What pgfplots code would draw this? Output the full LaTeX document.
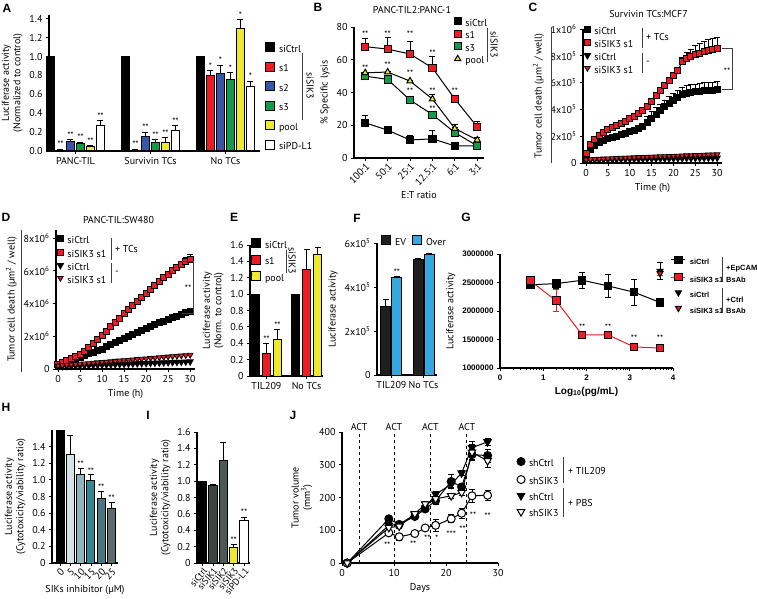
\documentclass[border=0pt]{standalone}
\usepackage{fontspec}
\setmainfont{PT Sans}
\newfontfamily\arial{Liberation Sans}
\usepackage{pgfplots}
\pgfplotsset{compat=1.18}

\definecolor{cred}{HTML}{ED1C24}
\definecolor{cblue}{HTML}{3A55A5}
\definecolor{cgreen}{HTML}{119A4B}
\definecolor{cyel}{HTML}{EEE82F}
\definecolor{cover}{HTML}{36A8E0}
\definecolor{cev}{HTML}{1F1F1F}
\definecolor{hA}{HTML}{D3E3E8}
\definecolor{hB}{HTML}{8EB4BD}
\definecolor{hC}{HTML}{2E8897}
\definecolor{hD}{HTML}{4A7682}
\definecolor{hE}{HTML}{5B6B70}
\definecolor{iA}{HTML}{3B4644}
\definecolor{iB}{HTML}{4D5955}
\definecolor{decg}{HTML}{404040}

\tikzset{
  st/.style={anchor=south, inner sep=0.5pt, font=\fontsize{9}{9}\selectfont},
  brk/.style={draw=decg, line width=1pt},
  lab/.style={font=\arial\bfseries\fontsize{12}{12}\selectfont, inner sep=0pt},
  gtx/.style={anchor=west, inner sep=0pt, font=\arial\bfseries\fontsize{7.5}{9}\selectfont},
}

\pgfplotsset{
  panel/.style={
    scale only axis, anchor=south west, clip=false,
    axis x line*=bottom, axis y line*=left,
    axis line style={line width=1.1pt},
    tick align=outside, major tick length=3pt, minor tick length=2pt,
    tick style={line width=0.8pt, black},
    /pgf/number format/assume math mode=true,
    scaled ticks=false,
    every axis plot/.append style={line width=1pt},
    legend style={draw=none, fill=none, inner sep=0pt, outer sep=0pt, anchor=north west,
      cells={anchor=west}, nodes={inner sep=0pt, text height=7pt, text depth=2pt},
      /tikz/every odd column/.append style={column sep=4pt}},
  },
  sqleg/.style={legend image code/.code={\draw[##1] (0pt,-2pt) rectangle (9pt,7pt);}},
  mkleg/.style={legend image code/.code={\draw[##1] plot[only marks] coordinates {(4pt,2.5pt)};}},
  lnleg/.style={legend image code/.code={\draw[mark repeat=2,mark phase=2,##1] plot coordinates {(0pt,2.5pt) (7pt,2.5pt) (14pt,2.5pt)};}},
  ebar/.style={error bars/y dir=plus, error bars/y explicit,
    error bars/error bar style={line width=1pt, black},
    error bars/error mark options={rotate=90, mark size=3pt, line width=1pt, black}},
  ebarb/.style={error bars/y dir=both, error bars/y explicit,
    error bars/error bar style={line width=1pt, black},
    error bars/error mark options={rotate=90, mark size=3pt, line width=1pt, black}},
  ebarr/.style={error bars/y dir=both, error bars/y explicit,
    error bars/error bar style={line width=1pt, cred},
    error bars/error mark options={rotate=90, mark size=3pt, line width=1pt, cred}},
}

\begin{document}
\fontsize{10}{11.5}\selectfont
\begin{tikzpicture}
\useasboundingbox (0pt,0pt) rectangle (757pt,598pt);

% ---------------- A
\begin{axis}[panel, at={(49pt,447pt)}, width=211pt, height=136pt,
  ybar=2pt, bar width=8pt,
  xmin=-0.353, xmax=2.46, ymin=0, ymax=1.44,
  xtick={0,1,2}, xticklabels={PANC-TIL,Survivin TCs,No TCs},
  ytick={0,0.2,0.4,0.6,0.8,1.0,1.2,1.4},
  yticklabels={0.0,0.2,0.4,0.6,0.8,1.0,1.2,1.4},
  ylabel={Luciferase activity\\(Normalized to control)},
  ylabel style={align=center},
  every axis plot/.append style={sqleg, draw=black},
  legend style={at={(1.024,0.80)}, row sep=7.5pt},
]
\addplot[fill=black] coordinates {(0,1) (1,1) (2,1)};
\addplot[fill=cred, ebar] coordinates {(0,0.01) +- (0,0.005) (1,0.01) +- (0,0.005) (2,0.80) +- (0,0.05)};
\addplot[fill=cblue, ebar] coordinates {(0,0.10) +- (0,0.02) (1,0.15) +- (0,0.05) (2,0.82) +- (0,0.09)};
\addplot[fill=cgreen, ebar] coordinates {(0,0.08) +- (0,0.015) (1,0.09) +- (0,0.03) (2,0.76) +- (0,0.07)};
\addplot[fill=cyel, ebar] coordinates {(0,0.05) +- (0,0.01) (1,0.09) +- (0,0.05) (2,1.30) +- (0,0.09)};
\addplot[fill=white, ebar] coordinates {(0,0.27) +- (0,0.05) (1,0.22) +- (0,0.05) (2,0.68) +- (0,0.06)};
\legend{siCtrl,s1,s2,s3,pool,siPD-L1}
\node[st] at ([xshift=-15pt]axis cs:0,0.03) {**};
\node[st] at ([xshift=-5pt]axis cs:0,0.125) {**};
\node[st] at ([xshift=5pt]axis cs:0,0.10) {**};
\node[st] at ([xshift=15pt]axis cs:0,0.065) {**};
\node[st] at ([xshift=25pt]axis cs:0,0.325) {**};
\node[st] at ([xshift=-15pt]axis cs:1,0.03) {**};
\node[st] at ([xshift=-5pt]axis cs:1,0.205) {**};
\node[st] at ([xshift=5pt]axis cs:1,0.125) {**};
\node[st] at ([xshift=15pt]axis cs:1,0.145) {**};
\node[st] at ([xshift=25pt]axis cs:1,0.275) {**};
\node[st] at ([xshift=-15pt]axis cs:2,0.855) {*};
\node[st] at ([xshift=-5pt]axis cs:2,0.915) {*};
\node[st] at ([xshift=5pt]axis cs:2,0.835) {*};
\node[st] at ([xshift=15pt]axis cs:2,1.395) {*};
\node[st] at ([xshift=25pt]axis cs:2,0.745) {*};
\end{axis}

% ---------------- B
\begin{axis}[panel, at={(354pt,440pt)}, width=130pt, height=131pt,
  xmin=-0.5, xmax=5.3, ymin=0, ymax=80,
  xtick={0,1,2,3,4,5}, xticklabels={100:1,50:1,25:1,12.5:1,6:1,3:1},
  xticklabel style={rotate=45, anchor=north east, inner sep=1pt},
  ytick={0,20,40,60,80},
  xlabel={E:T ratio}, ylabel={\% Specific lysis},
  title={PANC-TIL2:PANC-1}, title style={xshift=-7pt, yshift=4pt},
  every axis plot/.append style={mkleg},
  legend style={at={(0.77,1.073)}, row sep=2pt},
]
\addplot[black, mark=square*, mark size=3.6pt, ebar] coordinates {(0,21.5) +- (0,4.5) (1,17) +- (0,1) (2,11) +- (0,3) (3,11.7) +- (0,5) (4,7.4) +- (0,1) (5,7.4) +- (0,1)};
\addplot[black, mark=square*, mark size=3.6pt, mark options={fill=cred}, ebar] coordinates {(0,68) +- (0,5) (1,66.5) +- (0,7) (2,63.5) +- (0,7.5) (3,55) +- (0,7) (4,36) +- (0,1) (5,19) +- (0,3.5)};
\addplot[black, mark=square*, mark size=3.6pt, mark options={fill=cgreen}, ebar] coordinates {(0,50) +- (0,1.5) (1,48) +- (0,1) (2,35.4) +- (0,2) (3,26.5) +- (0,2) (4,15.5) +- (0,3) (5,7.4) +- (0,1)};
\addplot[black, mark=triangle*, mark size=3.6pt, mark options={fill=cyel}, ebar] coordinates {(0,52) +- (0,0.5) (1,52.5) +- (0,0.5) (2,47) +- (0,0.5) (3,36) +- (0,2.5) (4,18) +- (0,2.5) (5,11) +- (0,1.5)};
\legend{siCtrl,s1,s3,pool}
\node[st] at (axis cs:0,72.9) {**};
\node[st] at (axis cs:0,52.5) {**};
\node[st] at (axis cs:1,72.9) {**};
\node[st] at (axis cs:1,54.1) {**};
\node[st] at (axis cs:2,72.9) {**};
\node[st] at (axis cs:2,49.4) {**};
\node[st] at (axis cs:2,38.1) {**};
\node[st] at (axis cs:3,61.6) {**};
\node[st] at (axis cs:3,38.6) {**};
\node[st] at (axis cs:3,27.6) {**};
\node[st] at (axis cs:4,38.6) {**};
\end{axis}

% ---------------- C
\begin{axis}[panel, at={(583pt,435pt)}, width=139pt, height=134pt,
  xmin=-0.7, xmax=31.1, ymin=0, ymax=10,
  xtick={0,5,10,15,20,25,30}, ytick={0,2,4,6,8,10},
  yticklabels={0,2x10\textsuperscript{5},4x10\textsuperscript{5},6x10\textsuperscript{5},8x10\textsuperscript{5},1x10\textsuperscript{6}},
  xlabel={Time (h)}, ylabel={Tumor cell death (µm\textsuperscript{2} / well)},
  title={Survivin TCs:MCF7}, title style={xshift=-4pt, yshift=2pt},
  every axis plot/.append style={mkleg},
  legend style={at={(0.01,1.022)}, row sep=3.7pt},
]
\addplot[black, mark=square*, mark size=3pt, ebar] coordinates {
(0,0.45) +- (0,0.1) (1,1.00) +- (0,0.1) (2,1.30) +- (0,0.1) (3,1.50) +- (0,0.1) (4,1.65) +- (0,0.1)
(5,1.80) +- (0,0.1) (6,1.90) +- (0,0.1) (7,2.00) +- (0,0.1) (8,2.10) +- (0,0.1) (9,2.20) +- (0,0.1)
(10,2.35) +- (0,0.1) (11,2.45) +- (0,0.1) (12,2.60) +- (0,0.1) (13,2.75) +- (0,0.2) (14,3.00) +- (0,0.5)
(15,3.30) +- (0,0.55) (16,3.60) +- (0,0.55) (17,3.90) +- (0,0.5) (18,4.20) +- (0,0.5) (19,4.45) +- (0,0.5)
(20,4.70) +- (0,0.5) (21,4.90) +- (0,0.5) (22,5.10) +- (0,0.5) (23,5.20) +- (0,0.55) (24,5.28) +- (0,0.55)
(25,5.33) +- (0,0.55) (26,5.37) +- (0,0.55) (27,5.40) +- (0,0.6) (28,5.42) +- (0,0.6) (29,5.44) +- (0,0.6)
(30,5.45) +- (0,0.6)};
\addplot[black, mark=square*, mark size=3pt, mark options={fill=cred}, ebar] coordinates {
(0,0.70) +- (0,0.15) (1,1.35) +- (0,0.15) (2,1.75) +- (0,0.15) (3,2.05) +- (0,0.15) (4,2.30) +- (0,0.15)
(5,2.50) +- (0,0.15) (6,2.65) +- (0,0.15) (7,2.80) +- (0,0.15) (8,2.95) +- (0,0.15) (9,3.10) +- (0,0.15)
(10,3.30) +- (0,0.15) (11,3.50) +- (0,0.15) (12,3.70) +- (0,0.15) (13,3.95) +- (0,0.15) (14,4.25) +- (0,0.15)
(15,4.60) +- (0,0.15) (16,5.00) +- (0,0.15) (17,5.40) +- (0,0.15) (18,5.80) +- (0,0.15) (19,6.15) +- (0,0.15)
(20,6.50) +- (0,0.15) (21,6.90) +- (0,0.15) (22,7.55) +- (0,0.35) (23,7.80) +- (0,0.45) (24,7.95) +- (0,0.55)
(25,8.10) +- (0,0.65) (26,8.20) +- (0,0.7) (27,8.30) +- (0,0.75) (28,8.40) +- (0,0.78) (29,8.50) +- (0,0.78)
(30,8.55) +- (0,0.78)};
\addplot[black, mark=triangle*, mark size=3.4pt, mark options={rotate=180}] coordinates {
(0,0.20) (1,0.22) (2,0.23) (3,0.24) (4,0.25) (5,0.26) (6,0.26) (7,0.27) (8,0.27) (9,0.28)
(10,0.28) (11,0.29) (12,0.29) (13,0.30) (14,0.30) (15,0.31) (16,0.31) (17,0.32) (18,0.32) (19,0.33)
(20,0.33) (21,0.34) (22,0.34) (23,0.35) (24,0.35) (25,0.36) (26,0.36) (27,0.37) (28,0.37) (29,0.38) (30,0.38)};
\addplot[black, mark=triangle*, mark size=3.2pt, mark options={rotate=180, fill=cred, line width=0.8pt}] coordinates {
(0,0.25) (1,0.27) (2,0.29) (3,0.30) (4,0.32) (5,0.33) (6,0.35) (7,0.36) (8,0.38) (9,0.39)
(10,0.40) (11,0.42) (12,0.43) (13,0.44) (14,0.45) (15,0.46) (16,0.48) (17,0.49) (18,0.50) (19,0.51)
(20,0.52) (21,0.54) (22,0.55) (23,0.56) (24,0.57) (25,0.58) (26,0.59) (27,0.61) (28,0.62) (29,0.63) (30,0.64)};
\legend{siCtrl,siSIK3 s1,siCtrl,siSIK3 s1}
\end{axis}

% ---------------- D
\begin{axis}[panel, at={(56pt,229pt)}, width=139pt, height=139pt,
  xmin=-0.45, xmax=31.1, ymin=0, ymax=8.5,
  xtick={0,5,10,15,20,25,30}, ytick={0,2,4,6,8},
  yticklabels={0,2x10\textsuperscript{6},4x10\textsuperscript{6},6x10\textsuperscript{6},8x10\textsuperscript{6}},
  xlabel={Time (h)}, ylabel={Tumor cell death (µm\textsuperscript{2} / well)},
  title={PANC-TIL:SW480}, title style={xshift=-7pt, yshift=-3pt},
  every axis plot/.append style={mkleg},
  legend style={at={(0.01,0.957)}, row sep=3.7pt},
]
\addplot[black, mark=square*, mark size=3pt, ebar] coordinates {
(0,0.30) +- (0,0.05) (1,0.35) +- (0,0.05) (2,0.42) +- (0,0.05) (3,0.50) +- (0,0.05) (4,0.58) +- (0,0.05)
(5,0.68) +- (0,0.05) (6,0.80) +- (0,0.05) (7,0.92) +- (0,0.05) (8,1.03) +- (0,0.05) (9,1.13) +- (0,0.05)
(10,1.22) +- (0,0.05) (11,1.35) +- (0,0.05) (12,1.48) +- (0,0.05) (13,1.60) +- (0,0.05) (14,1.73) +- (0,0.05)
(15,1.85) +- (0,0.05) (16,1.97) +- (0,0.05) (17,2.10) +- (0,0.05) (18,2.22) +- (0,0.05) (19,2.35) +- (0,0.05)
(20,2.48) +- (0,0.05) (21,2.60) +- (0,0.05) (22,2.72) +- (0,0.05) (23,2.83) +- (0,0.05) (24,2.93) +- (0,0.05)
(25,3.03) +- (0,0.05) (26,3.13) +- (0,0.05) (27,3.23) +- (0,0.05) (28,3.33) +- (0,0.05) (29,3.43) +- (0,0.05)
(30,3.53) +- (0,0.05)};
\addplot[black, mark=square*, mark size=3pt, mark options={fill=cred}, ebar] coordinates {
(0,0.30) +- (0,0.05) (1,0.40) +- (0,0.05) (2,0.50) +- (0,0.05) (3,0.62) +- (0,0.05) (4,0.75) +- (0,0.05)
(5,0.90) +- (0,0.05) (6,1.10) +- (0,0.05) (7,1.33) +- (0,0.05) (8,1.57) +- (0,0.05) (9,1.82) +- (0,0.05)
(10,2.07) +- (0,0.05) (11,2.32) +- (0,0.05) (12,2.57) +- (0,0.05) (13,2.83) +- (0,0.05) (14,3.10) +- (0,0.05)
(15,3.37) +- (0,0.05) (16,3.63) +- (0,0.05) (17,3.88) +- (0,0.05) (18,4.12) +- (0,0.05) (19,4.37) +- (0,0.05)
(20,4.62) +- (0,0.05) (21,4.87) +- (0,0.05) (22,5.10) +- (0,0.05) (23,5.35) +- (0,0.05) (24,5.58) +- (0,0.05)
(25,5.80) +- (0,0.05) (26,6.00) +- (0,0.1) (27,6.20) +- (0,0.1) (28,6.40) +- (0,0.2) (29,6.55) +- (0,0.25)
(30,6.70) +- (0,0.3)};
\addplot[black, mark=triangle*, mark size=3.4pt, mark options={rotate=180}] coordinates {
(0,0.15) (1,0.16) (2,0.17) (3,0.18) (4,0.19) (5,0.20) (6,0.21) (7,0.22) (8,0.23) (9,0.24)
(10,0.25) (11,0.26) (12,0.27) (13,0.28) (14,0.29) (15,0.30) (16,0.31) (17,0.32) (18,0.33) (19,0.34)
(20,0.35) (21,0.36) (22,0.37) (23,0.38) (24,0.39) (25,0.40) (26,0.41) (27,0.42) (28,0.43) (29,0.44) (30,0.45)};
\addplot[black, mark=triangle*, mark size=3.2pt, mark options={rotate=180, fill=cred, line width=0.8pt}] coordinates {
(0,0.20) (1,0.22) (2,0.24) (3,0.27) (4,0.29) (5,0.31) (6,0.33) (7,0.35) (8,0.38) (9,0.40)
(10,0.42) (11,0.44) (12,0.46) (13,0.49) (14,0.51) (15,0.53) (16,0.55) (17,0.57) (18,0.60) (19,0.62)
(20,0.64) (21,0.66) (22,0.68) (23,0.71) (24,0.73) (25,0.75) (26,0.77) (27,0.79) (28,0.82) (29,0.84) (30,0.86)};
\legend{siCtrl,siSIK3 s1,siCtrl,siSIK3 s1}
\end{axis}

% ---------------- E
\begin{axis}[panel, at={(250pt,222pt)}, width=73pt, height=131pt,
  ybar=2.5pt, bar width=8.5pt,
  xmin=-0.41, xmax=1.41, ymin=0, ymax=1.6,
  xtick={0,1}, xticklabels={TIL209,No TCs},
  ytick={0,0.2,0.4,0.6,0.8,1.0,1.2,1.4,1.6},
  yticklabels={0,0.2,0.4,0.6,0.8,1.0,1.2,1.4,1.6},
  ylabel={Luciferase activity\\(Norm. to control)}, ylabel style={align=center},
  every axis plot/.append style={sqleg, draw=black},
  legend style={at={(0.014,1.05)}, row sep=4.5pt},
]
\addplot[fill=black] coordinates {(0,1) (1,1)};
\addplot[fill=cred, ebar] coordinates {(0,0.28) +- (0,0.12) (1,1.30) +- (0,0.25)};
\addplot[fill=cyel, ebar] coordinates {(0,0.44) +- (0,0.13) (1,1.48) +- (0,0.09)};
\legend{siCtrl,s1,pool}
\node[st] at (axis cs:0,0.405) {**};
\node[st] at ([xshift=11pt]axis cs:0,0.575) {**};
\end{axis}

% ---------------- F
\begin{axis}[panel, at={(377pt,223pt)}, width=60pt, height=132pt,
  ybar=1pt, bar width=10pt,
  xmin=-0.45, xmax=1.42, ymin=0, ymax=6,
  xtick={0,1}, xticklabels={TIL209,No TCs},
  ytick={0,2,4,6},
  yticklabels={0,2x10\textsuperscript{5},4x10\textsuperscript{5},6x10\textsuperscript{5}},
  ylabel={Luciferase activity},
  every axis plot/.append style={sqleg, draw=black},
  legend columns=2,
  legend style={at={(0.067,1.057)}, /tikz/every even column/.append style={column sep=6pt}},
]
\addplot[fill=cev, ebar] coordinates {(0,3.10) +- (0,0.35) (1,5.24) +- (0,0.04)};
\addplot[fill=cover, ebar] coordinates {(0,4.45) +- (0,0.05) (1,5.50) +- (0,0.03)};
\legend{EV,Over}
\node[st] at ([xshift=5.5pt]axis cs:0,4.5) {**};
\end{axis}

% ---------------- G
\begin{axis}[panel, at={(500pt,230pt)}, width=173pt, height=114pt,
  xmin=0, xmax=4, ymin=1, ymax=3,
  xtick={0,1,2,3,4}, xticklabels={0,1,2,3,4},
  ytick={1,1.5,2,2.5,3},
  yticklabels={1000000,1500000,2000000,2500000,3000000},
  ticklabel style={font=\arial\bfseries\fontsize{8}{9}\selectfont},
  minor xtick={0.301,0.477,0.602,0.699,0.778,0.845,0.903,0.954,
    1.301,1.477,1.602,1.699,1.778,1.845,1.903,1.954,
    2.301,2.477,2.602,2.699,2.778,2.845,2.903,2.954,
    3.301,3.477,3.602,3.699,3.778,3.845,3.903,3.954},
  xlabel={\arial\bfseries Log\textsubscript{10}(pg/mL)},
  ylabel={Luciferase activity},
  every axis plot/.append style={lnleg},
  legend style={at={(0.988,0.982)}, row sep=6.5pt, font=\arial\bfseries\fontsize{7.5}{9}\selectfont},
]
\addplot[black, mark=square*, mark size=3.8pt, ebarb] coordinates {(0.7,2.46) +- (0,0.05) (1.3,2.48) +- (0,0.08) (1.9,2.54) +- (0,0.14) (2.5,2.44) +- (0,0.2) (3.1,2.33) +- (0,0.23) (3.7,2.15) +- (0,0.02)};
\addplot[cred, mark=square*, mark size=3.8pt, mark options={fill=cred, draw=black}, ebarr] coordinates {(0.7,2.53) +- (0,0.07) (1.3,2.18) +- (0,0.19) (1.9,1.58) +- (0,0.03) (2.5,1.58) +- (0,0.03) (3.1,1.37) +- (0,0.06) (3.7,1.35) +- (0,0.02)};
\addplot[black, only marks, mark=triangle*, mark size=3.4pt, mark options={rotate=180}, ebarb] coordinates {(3.7,2.70) +- (0,0.15)};
\addplot[black, only marks, mark=triangle*, mark size=3.4pt, mark options={rotate=180, fill=cred}, ebarr] coordinates {(3.7,2.66) +- (0,0.04)};
\legend{siCtrl,siSIK3 s1,siCtrl,siSIK3 s1}
\node[st] at (axis cs:1.9,1.64) {**};
\node[st] at (axis cs:2.5,1.64) {**};
\node[st] at (axis cs:3.1,1.46) {**};
\node[st] at (axis cs:3.7,1.46) {**};
\end{axis}

% ---------------- H
\begin{axis}[panel, at={(52pt,35pt)}, width=66pt, height=133pt,
  ybar, bar width=8pt,
  every axis plot/.append style={bar shift=0pt, draw=black},
  xmin=-0.78, xmax=5.63, ymin=0, ymax=1.6,
  xtick={0,1,2,3,4,5}, xticklabels={0,5,10,15,20,25},
  xticklabel style={rotate=45, anchor=north east, inner sep=1pt},
  ytick={0,0.2,0.4,0.6,0.8,1.0,1.2,1.4},
  yticklabels={0,0.2,0.4,0.6,0.8,1.0,1.2,1.4},
  xlabel={SIKs inhibitor (µM)},
  ylabel={Luciferase activity\\(Cytotoxicity/viability ratio)}, ylabel style={align=center},
]
\addplot[fill=black] coordinates {(0,1.6)};
\addplot[fill=hA, ebar] coordinates {(1,1.30) +- (0,0.23)};
\addplot[fill=hB, ebar] coordinates {(2,1.06) +- (0,0.08)};
\addplot[fill=hC, ebar] coordinates {(3,0.99) +- (0,0.07)};
\addplot[fill=hD, ebar] coordinates {(4,0.78) +- (0,0.08)};
\addplot[fill=hE, ebar] coordinates {(5,0.65) +- (0,0.08)};
\node[st] at (axis cs:2,1.14) {**};
\node[st] at (axis cs:3,1.06) {**};
\node[st] at (axis cs:4,0.86) {**};
\node[st] at (axis cs:5,0.73) {**};
\end{axis}

% ---------------- I
\begin{axis}[panel, at={(197pt,35pt)}, width=53pt, height=131pt,
  ybar, bar width=8.5pt,
  every axis plot/.append style={bar shift=0pt, draw=black},
  xmin=-0.53, xmax=4.57, ymin=0, ymax=1.6,
  xtick={0,1,2,3,4}, xticklabels={siCtrl,siSIK1,siSIK2,siSIK3,siPD-L1},
  xticklabel style={rotate=50, anchor=north east, inner sep=0.5pt, font=\fontsize{9.5}{10}\selectfont},
  ytick={0,0.2,0.4,0.6,0.8,1.0,1.2,1.4,1.6},
  yticklabels={0,0.2,0.4,0.6,0.8,1.0,1.2,1.4,1.6},
  ylabel={Luciferase activity\\(Cytotoxicity/viability ratio)}, ylabel style={align=center},
]
\addplot[fill=black] coordinates {(0,1.0)};
\addplot[fill=iA, ebar] coordinates {(1,0.95) +- (0,0.01)};
\addplot[fill=iB, ebar] coordinates {(2,1.25) +- (0,0.22)};
\addplot[fill=cyel, ebar] coordinates {(3,0.19) +- (0,0.03)};
\addplot[fill=white, ebar] coordinates {(4,0.52) +- (0,0.04)};
\node[st] at (axis cs:3,0.23) {**};
\node[st] at (axis cs:4,0.57) {**};
\end{axis}

% ---------------- J
\begin{axis}[panel, at={(342pt,35pt)}, width=156pt, height=131pt,
  xmin=0, xmax=30, ymin=0, ymax=400,
  xtick={0,10,20,30}, ytick={0,100,200,300,400},
  xlabel={Days}, ylabel={Tumor volume\\(mm\textsuperscript{3})}, ylabel style={align=center},
  every axis plot/.append style={mkleg},
  legend style={at={(1.122,0.805)}, row sep=7pt},
]
\addplot[black, dashed, line width=0.7pt, forget plot] coordinates {(3.3,0) (3.3,400)};
\addplot[black, dashed, line width=0.7pt, forget plot] coordinates {(10,0) (10,400)};
\addplot[black, dashed, line width=0.7pt, forget plot] coordinates {(17,0) (17,400)};
\addplot[black, dashed, line width=0.7pt, forget plot] coordinates {(24,0) (24,400)};
\addplot[black, mark=*, mark size=4pt, ebarb] coordinates {(1,0) +- (0,2) (9,135) +- (0,5) (11,118) +- (0,5) (14,142) +- (0,5) (16,165) +- (0,5) (18,190) +- (0,10) (21,249) +- (0,20) (23,232) +- (0,10) (25,331) +- (0,15) (28,328) +- (0,20)};
\addplot[black, mark=*, mark size=4pt, mark options={fill=white}, ebarb] coordinates {(1,0) +- (0,2) (9,92) +- (0,8) (11,80) +- (0,10) (14,90) +- (0,5) (16,107) +- (0,8) (18,115) +- (0,18) (21,135) +- (0,12) (23,152) +- (0,15) (25,205) +- (0,20) (28,207) +- (0,15)};
\addplot[black, mark=triangle*, mark size=4.3pt, mark options={rotate=180}, ebarb] coordinates {(1,0) +- (0,2) (9,115) +- (0,8) (11,118) +- (0,8) (14,148) +- (0,8) (16,168) +- (0,8) (18,210) +- (0,8) (21,240) +- (0,8) (23,275) +- (0,8) (25,352) +- (0,20) (28,370) +- (0,10)};
\addplot[black, mark=triangle*, mark size=4.3pt, mark options={rotate=180, fill=white}, ebarb] coordinates {(1,0) +- (0,2) (9,108) +- (0,8) (11,112) +- (0,8) (14,150) +- (0,8) (16,180) +- (0,8) (18,196) +- (0,8) (21,205) +- (0,8) (23,215) +- (0,8) (25,338) +- (0,25) (28,312) +- (0,20)};
\legend{shCtrl,shSIK3,shCtrl,shSIK3}
\node[anchor=south, inner sep=1pt] at (axis cs:3.3,400) {ACT};
\node[anchor=south, inner sep=1pt] at (axis cs:10,400) {ACT};
\node[anchor=south, inner sep=1pt] at (axis cs:17,400) {ACT};
\node[anchor=south, inner sep=1pt] at (axis cs:24,400) {ACT};
\node[st] at (axis cs:8.7,43) {**};
\node[st] at (axis cs:13.7,44) {**};
\node[st] at (axis cs:16.4,64) {**};
\node[st] at (axis cs:18.2,65) {*};
\node[st] at (axis cs:21,75) {***};
\node[st] at (axis cs:23.2,92) {**};
\node[st] at (axis cs:25.2,133) {**};
\node[st] at (axis cs:28,131) {**};
\end{axis}

% ---------------- legend brackets and side texts
\draw[brk] (302pt,545pt) -- (302pt,478pt);
\node[rotate=-90, inner sep=0pt] at (310pt,512pt) {siSIK3};
\draw[brk] (487pt,570pt) -- (487pt,536pt);
\node[rotate=-90, inner sep=0pt] at (494pt,553pt) {siSIK3};
\draw[brk] (551.5pt,571pt) -- (551.5pt,435pt);
\draw[brk] (642pt,570pt) -- (642pt,550pt);
\node[anchor=west, inner sep=0pt] at (646pt,561pt) {+ TCs};
\draw[brk] (642pt,545pt) -- (642pt,525pt);
\node[anchor=west, inner sep=0pt] at (646pt,535pt) {-};
\draw[brk, line width=0.8pt] (722pt,550pt) -- (732pt,550pt) -- (732pt,509pt) -- (722pt,509pt);
\node[st] at (727pt,523pt) {**};
\draw[brk] (21pt,368pt) -- (21pt,226pt);
\draw[brk] (111pt,360pt) -- (111pt,338pt);
\node[anchor=west, inner sep=0pt] at (115pt,349pt) {+ TCs};
\draw[brk] (111pt,335pt) -- (111pt,315pt);
\node[anchor=west, inner sep=0pt] at (115pt,325pt) {-};
\draw[brk, line width=0.8pt] (182pt,337pt) -- (193pt,337pt) -- (193pt,285pt) -- (182pt,285pt);
\node[st] at (188pt,306pt) {**};
\draw[brk] (286pt,348pt) -- (286pt,325pt);
\node[rotate=-90, inner sep=0pt] at (292pt,337pt) {siSIK3};
\draw[brk] (722pt,341pt) -- (722pt,316pt);
\draw[brk] (722pt,310pt) -- (722pt,285pt);
\node[gtx] at (726pt,329pt) {+EpCAM};
\node[gtx] at (726pt,318pt) {BsAb};
\node[gtx] at (726pt,298pt) {+Ctrl};
\node[gtx] at (726pt,287pt) {BsAb};
\draw[brk] (563pt,141pt) -- (563pt,115pt);
\draw[brk] (563pt,110pt) -- (563pt,81pt);
\node[anchor=west, inner sep=0pt] at (568pt,127pt) {+ TIL209};
\node[anchor=west, inner sep=0pt] at (568pt,95pt) {+ PBS};

% ---------------- panel letters
\node[lab] at (7pt,590pt) {A};
\node[lab] at (318pt,591pt) {B};
\node[lab] at (533pt,591pt) {C};
\node[lab] at (6pt,381pt) {D};
\node[lab] at (234pt,381pt) {E};
\node[lab] at (357pt,380pt) {F};
\node[lab] at (466pt,381pt) {G};
\node[lab] at (6pt,191pt) {H};
\node[lab] at (148pt,183pt) {I};
\node[lab] at (293pt,183pt) {J};
\end{tikzpicture}
\end{document}
